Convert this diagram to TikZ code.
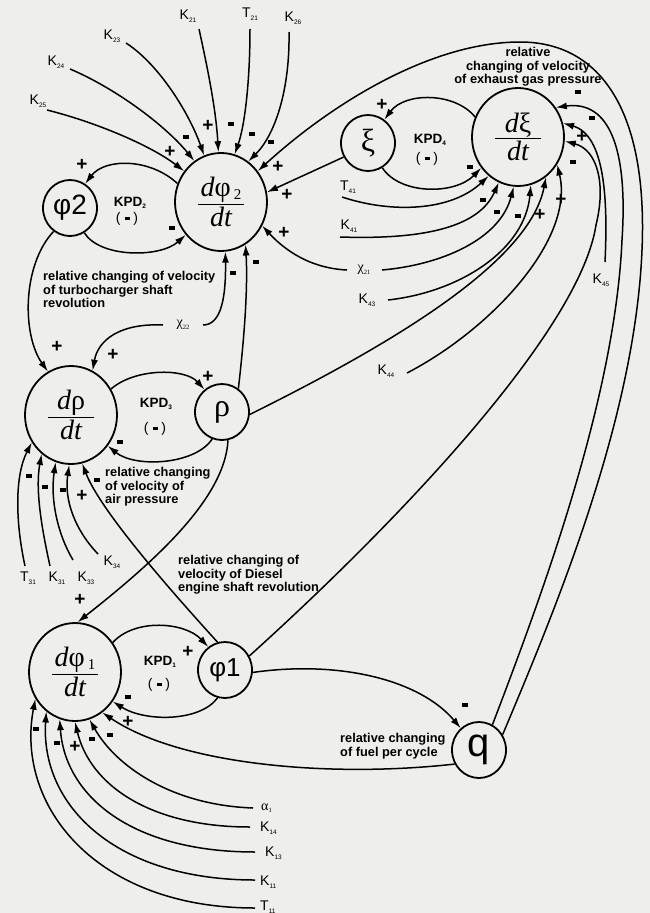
\documentclass[tikz,border=0pt]{standalone}
\usepackage{fontspec}
\setmainfont{Liberation Sans}
\newfontfamily\tms{Liberation Serif}
\usetikzlibrary{shapes.geometric,arrows.meta}
\definecolor{paper}{RGB}{238,238,236}
\newcommand\fz[1]{\fontsize{#1}{#1}\selectfont}
\newcommand\fr[2]{\vbox{\hbox to 46pt{\hfil#1\hfil}\kern1pt\hrule height 1pt\kern2pt\hbox to 46pt{\hfil#2\hfil}}}
\newcommand\sub[1]{\raisebox{-2.5pt}{\fz{6.5}#1}}
\newcommand\Pl[2]{\node[plus] (#1) at (#2) {+};}
\newcommand\Mi[2]{\node[minus] (#1) at (#2) {};}
\newcommand\den{{\tms\fz{28}\itshape dt}}
\tikzset{
 big/.style={draw, ellipse, line width=1.8pt, minimum width=92pt, minimum height=98pt, inner sep=0pt},
 small/.style={draw, ellipse, line width=1.8pt, minimum width=54pt, minimum height=56pt, inner sep=0pt},
 arr/.style={line width=1.5pt, -{Latex[length=11pt,width=7pt]}},
 plus/.style={font=\fz{19}\bfseries, inner sep=0pt},
 minus/.style={fill=black, inner sep=0pt, minimum width=6.5pt, minimum height=3.2pt},
 kl/.style={font=\fz{14}, inner sep=0pt},
 rel/.style={font=\fontsize{12.8}{13.6}\selectfont\bfseries, inner sep=0pt, align=left, anchor=north west},
 kpd/.style={font=\fz{13.5}\bfseries, inner sep=0pt},
 par/.style={font=\fz{14}, inner sep=0pt},
}
\begin{document}
\begin{tikzpicture}[x=1pt,y=-1pt]
\fill[paper] (0,0) rectangle (650,913);
\useasboundingbox (0,0) rectangle (650,913);

% ---------- main nodes ----------
\node[big] (dphi2) at (221,202) {\fr{\tms\fz{28}\itshape d\upshape φ\kern3pt\raisebox{-3pt}{\fz{15}2}}{\den}};
\node[small] (phi2) at (70,208) {\fz{28}φ2};
\node[small] (xi) at (368,143) {\tms\fz{32}ξ};
\node[big] (dxi) at (518,137) {\fr{\tms\fz{28}\itshape d\upshape ξ}{\den}};
\node[big] (drho) at (71,415) {\fr{\tms\fz{28}\itshape d\upshape ρ}{\den}};
\node[small] (rho) at (222,412) {\tms\fz{32}ρ};
\node[big] (dphi1) at (75,672) {\fr{\tms\fz{28}\itshape d\upshape φ\kern3pt\raisebox{-3pt}{\fz{15}1}}{\den}};
\node[small] (phi1) at (225,670) {\fz{26}φ1};
\node[small] (q) at (479,750) {\fz{40}q};

% ---------- KPD labels ----------
\node[kpd] (kpd2) at (130,203) {KPD\sub{2}};
\node[par] (kpd2s) at (127,219) {( \rule[2.5pt]{5pt}{3pt} )};
\node[kpd] (kpd4) at (430,140) {KPD\sub{4}};
\node[par] (kpd4s) at (427,159) {( \rule[2.5pt]{5pt}{3pt} )};
\node[kpd] (kpd3) at (156,404) {KPD\sub{3}};
\node[par] (kpd3s) at (155,429) {( \rule[2.5pt]{5pt}{3pt} )};
\node[kpd] (kpd1) at (160,662) {KPD\sub{1}};
\node[par] (kpd1s) at (159,685) {( \rule[2.5pt]{5pt}{3pt} )};

% ---------- descriptive texts ----------
\node[rel, align=center, anchor=north] (t1) at (528,47) {relative\\changing of velocity\\of exhaust gas pressure};
\node[rel] (t2) at (43,271) {relative changing of velocity\\of turbocharger shaft\\revolution};
\node[rel] (t3) at (105,467) {relative changing\\of velocity of\\air pressure};
\node[rel] (t4) at (178,555) {relative changing of\\velocity of Diesel\\engine shaft revolution};
\node[rel] (t5) at (340,733) {relative changing\\of fuel per cycle};

% ---------- input labels ----------
\node[kl] (lK23) at (112,36) {K\sub{23}};
\node[kl] (lK24) at (56,62) {K\sub{24}};
\node[kl] (lK25) at (38,101) {K\sub{25}};
\node[kl] (lK21) at (188,16) {K\sub{21}};
\node[kl] (lT21) at (250,14) {T\sub{21}};
\node[kl] (lK26) at (293,18) {K\sub{26}};
\node[kl] (lT41) at (348,187) {T\sub{41}};
\node[kl] (lK41) at (349,226) {K\sub{41}};
\node[kl] (lX21) at (364,270) {\tms χ\sub{21}};
\node[kl] (lK43) at (367,300) {K\sub{43}};
\node[kl] (lK44) at (386,371) {K\sub{44}};
\node[kl] (lK45) at (601,280) {K\sub{45}};
\node[kl] (lX22) at (183,325) {\tms χ\sub{22}};
\node[kl] (lT31) at (28,578) {T\sub{31}};
\node[kl] (lK31) at (57,578) {K\sub{31}};
\node[kl] (lK33) at (86,578) {K\sub{33}};
\node[kl] (lK34) at (112,562) {K\sub{34}};
\node[kl, anchor=west] (lA1) at (261,808) {\tms α\sub{1}};
\node[kl, anchor=west] (lK14) at (260,828) {K\sub{14}};
\node[kl, anchor=west] (lK13) at (265,853) {K\sub{13}};
\node[kl, anchor=west] (lK11) at (260,882) {K\sub{11}};
\node[kl, anchor=west] (lT11) at (260,907) {T\sub{11}};

% ---------- free ends ----------
\coordinate (cK23) at (126,43);
\coordinate (cK24) at (70,69);
\coordinate (cK25) at (47,110);
\coordinate (cK21) at (199,29);
\coordinate (cT21) at (250,29);
\coordinate (cK26) at (289,32);
\coordinate (cT41) at (342,197);
\coordinate (cK41) at (340,237);
\coordinate (cX21a) at (347,270);
\coordinate (cX21b) at (382,270);
\coordinate (cK43) at (388,300);
\coordinate (cK44) at (407,373);
\coordinate (cK45) at (605,262);
\coordinate (cX22a) at (163,325);
\coordinate (cX22b) at (203,325);
\coordinate (cT31) at (25,566);
\coordinate (cK31) at (50,566);
\coordinate (cK33) at (73,560);
\coordinate (cK34) at (98,554);
\coordinate (cA1) at (253,808);
\coordinate (cK14) at (250,827);
\coordinate (cK13) at (255,852);
\coordinate (cK11) at (255,880);
\coordinate (cT11) at (255,908);

% ---------- inputs to dphi2 ----------
\draw[arr] (cK23) .. controls (160,65) and (190,115) .. (dphi2.110);
\draw[arr] (cK24) .. controls (115,88) and (165,125) .. (dphi2.123);
\draw[arr] (cK25) .. controls (95,122) and (150,145) .. (dphi2.140);
\draw[arr] (cK21) .. controls (208,70) and (216,110) .. (dphi2.93);
\draw[arr] (cT21) .. controls (250,80) and (245,125) .. (dphi2.74);
\draw[arr] (cK26) .. controls (290,90) and (275,135) .. (dphi2.56);
\draw[arr] (q.33) .. controls (555,610) and (635,420) .. (642,250) .. controls (648,110) and (600,42) .. (520,42) .. controls (430,42) and (330,105) .. (dphi2.40);
\draw[arr] (xi.-150) -- (dphi2.12);
\draw[arr] (cX21a) .. controls (305,268) and (280,245) .. (dphi2.-30);
\draw[arr] (rho.55) .. controls (244,340) and (248,290) .. (dphi2.-60);
\draw[arr] (cX22b) .. controls (222,325) and (226,295) .. (dphi2.-85);
\draw[arr] (dphi2.157) .. controls (150,158) and (105,158) .. (phi2.58);
\draw[arr] (phi2.-60) .. controls (100,258) and (160,258) .. (dphi2.-137);

% ---------- inputs to dxi ----------
\draw[arr] (dxi.155) .. controls (455,92) and (405,92) .. (xi.55);
\draw[arr] (xi.-60) .. controls (400,195) and (455,195) .. (dxi.-140);
\draw[arr] (cT41) .. controls (390,213) and (450,212) .. (dxi.-127);
\draw[arr] (cK41) .. controls (430,240) and (480,225) .. (dxi.-113);
\draw[arr] (cX21b) .. controls (440,265) and (500,240) .. (dxi.-95);
\draw[arr] (cK43) .. controls (460,292) and (525,250) .. (dxi.-75);
\draw[arr] (rho.-5) .. controls (400,340) and (530,260) .. (dxi.-55);
\draw[arr] (cK44) .. controls (490,330) and (575,240) .. (dxi.-35);
\draw[arr] (phi1.30) .. controls (400,520) and (580,330) .. (596,225) .. controls (606,185) and (598,150) .. (dxi.-5);
\draw[arr] (cK45) .. controls (608,200) and (605,135) .. (dxi.17);
\draw[arr] (q.62) .. controls (540,600) and (615,400) .. (622,240) .. controls (628,150) and (610,100) .. (dxi.38);

% ---------- inputs to drho ----------
\draw[arr] (phi2.-125) .. controls (22,265) and (22,335) .. (drho.118);
\draw[arr] (cX22a) .. controls (120,323) and (98,340) .. (drho.64);
\draw[arr] (drho.33) .. controls (135,368) and (185,368) .. (rho.128);
\draw[arr] (rho.-110) .. controls (195,465) and (135,468) .. (drho.-40);
\draw[arr] (cT31) .. controls (15,520) and (15,475) .. (drho.-145);
\draw[arr] (cK31) .. controls (42,530) and (35,490) .. (drho.-127);
\draw[arr] (cK33) .. controls (58,535) and (50,500) .. (drho.-108);
\draw[arr] (cK34) .. controls (75,530) and (64,500) .. (drho.-92);
\draw[arr] (phi1.105) .. controls (170,590) and (100,510) .. (drho.-77);

% ---------- inputs to dphi1 ----------
\draw[arr] (rho.-78) .. controls (225,500) and (150,565) .. (dphi1.87);
\draw[arr] (dphi1.38) .. controls (135,618) and (185,622) .. (phi1.126);
\draw[arr] (phi1.-105) .. controls (200,722) and (145,722) .. (dphi1.-38);
\draw[arr] (phi1.-5) .. controls (340,660) and (420,680) .. (q.130);
\draw[arr] (q.-150) .. controls (330,778) and (180,765) .. (dphi1.-56);
\draw[arr] (cA1) .. controls (170,805) and (115,765) .. (dphi1.-73);
\draw[arr] (cK14) .. controls (150,827) and (90,785) .. (dphi1.-90);
\draw[arr] (cK13) .. controls (130,852) and (65,795) .. (dphi1.-108);
\draw[arr] (cK11) .. controls (115,880) and (40,805) .. (dphi1.-126);
\draw[arr] (cT11) .. controls (95,908) and (15,805) .. (dphi1.-146);

% ---------- signs ----------
\Pl{s1}{170,152} \Mi{s2}{186,137} \Pl{s3}{208,126} \Mi{s4}{231,124}
\Mi{s5}{252,134} \Mi{s6}{271,142} \Pl{s7}{278,167} \Pl{s8}{287,195}
\Pl{s9}{284,233} \Mi{s10}{233,273} \Mi{s11}{256,262} \Mi{s12}{172,228}
\Pl{s13}{82,165}
\Pl{s14}{382,105} \Mi{s15}{470,167} \Mi{s16}{483,200} \Mi{s17}{497,212}
\Mi{s18}{518,216} \Pl{s19}{540,215} \Pl{s20}{561,200} \Mi{s21}{573,162}
\Pl{s22}{582,137} \Mi{s23}{592,118} \Mi{s24}{578,92}
\Pl{s25}{57,347} \Pl{s26}{113,355} \Pl{s27}{208,377} \Mi{s28}{120,442}
\Mi{s29}{29,476} \Mi{s30}{45,487} \Mi{s31}{63,490} \Pl{s32}{82,496} \Mi{s33}{97,480}
\Pl{s34}{80,600} \Pl{s35}{188,652} \Mi{s36}{128,697} \Pl{s37}{128,722}
\Mi{s38}{110,735} \Mi{s39}{92,739} \Pl{s40}{75,747} \Mi{s41}{57,743} \Mi{s42}{36,729}
\Mi{s43}{465,705}
\end{tikzpicture}
\end{document}
